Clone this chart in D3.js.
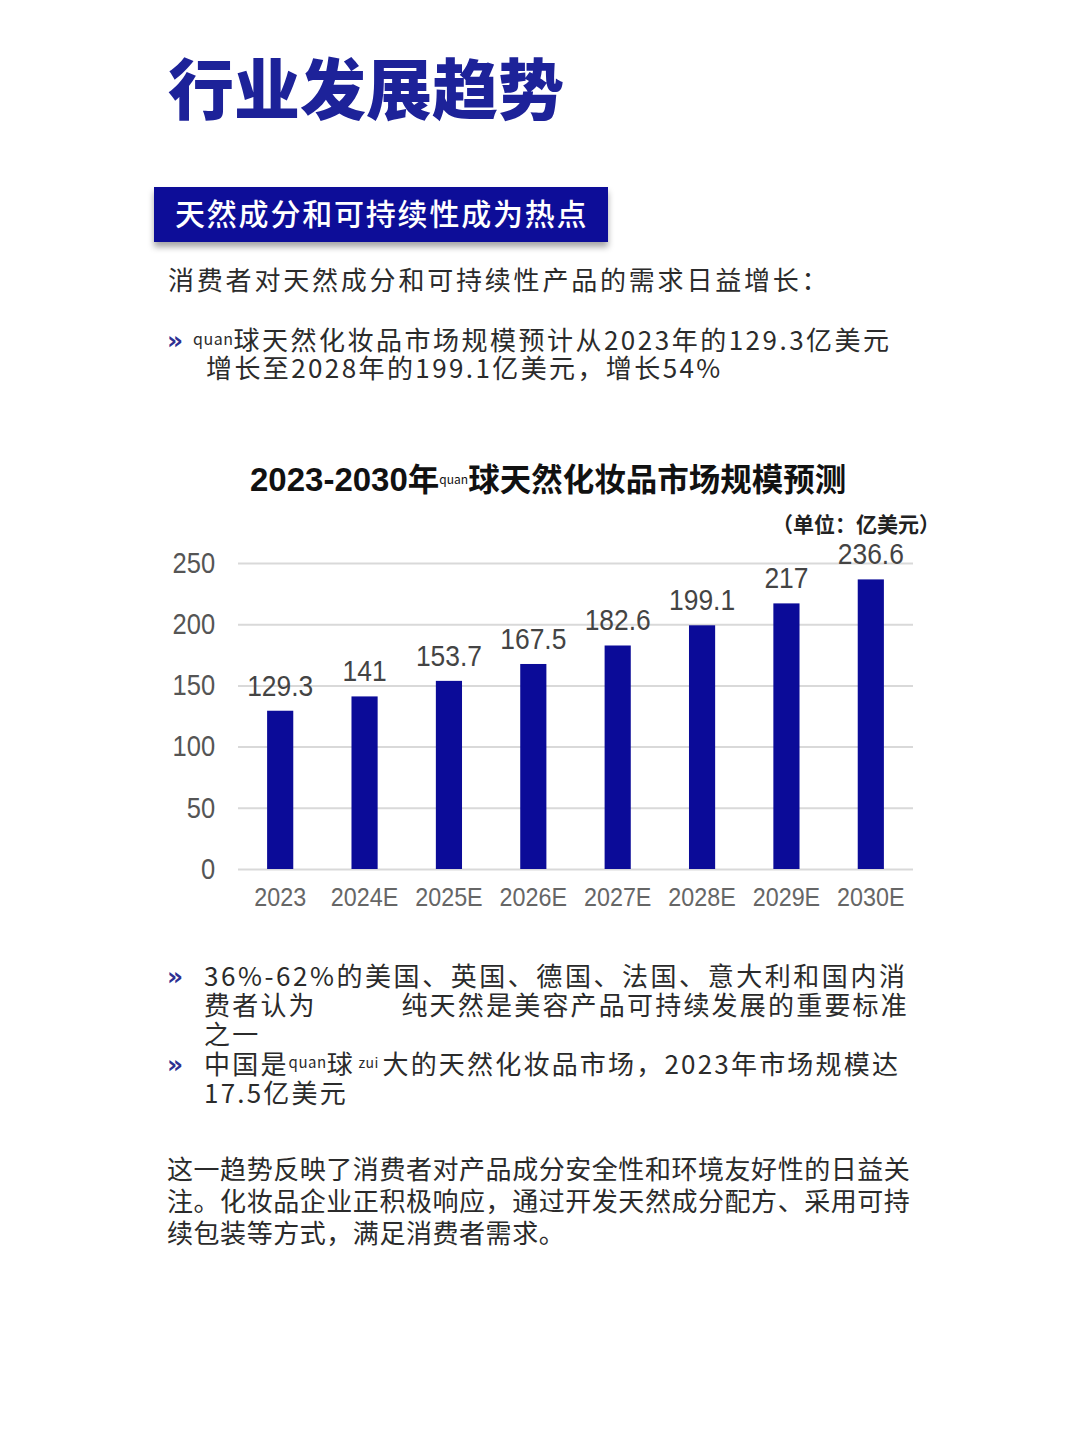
<!DOCTYPE html>
<html>
<head>
<meta charset="utf-8">
<script src="https://cdn.jsdelivr.net/npm/d3@7"></script>
<style>
  body { margin: 0; background: #fff; }
  svg { display: block; }
  .cjk { font-family: "Noto Sans CJK SC", "Noto Sans", sans-serif; }
  .num { font-family: "Liberation Sans", Arial, sans-serif; }
</style>
</head>
<body>
<svg id="page" width="1080" height="1440"></svg>
<script>
// chart data
const years = ["2023", "2024E", "2025E", "2026E", "2027E", "2028E", "2029E", "2030E"];
const marketSize = [129.3, 141, 153.7, 167.5, 182.6, 199.1, 217, 236.6];
const yTicks = [0, 50, 100, 150, 200, 250];

const navy = "#0b0b98";
const narrow = "scale(0.88,1)"; // the picture uses a condensed face for numbers

const svg = d3.select("#page");

svg.append("rect").attr("width", 1080).attr("height", 1440).attr("fill", "#fff");

// shadow for the banner
const defs = svg.append("defs");
const f = defs.append("filter").attr("id", "shadow")
    .attr("x", "-5%").attr("y", "-20%").attr("width", "110%").attr("height", "160%");
f.append("feDropShadow")
    .attr("dx", 0).attr("dy", 5).attr("stdDeviation", 3)
    .attr("flood-color", "#000").attr("flood-opacity", 0.35);

// page title
svg.append("text")
    .attr("class", "cjk")
    .attr("x", 168).attr("y", 114)
    .attr("font-size", 66).attr("font-weight", 900)
    .attr("fill", "#1d2299")
    .text("行业发展趋势");

// banner
svg.append("rect")
    .attr("x", 154).attr("y", 187)
    .attr("width", 454).attr("height", 55)
    .attr("fill", navy)
    .attr("filter", "url(#shadow)");

svg.append("text")
    .attr("class", "cjk")
    .attr("x", 175).attr("y", 225)
    .attr("font-size", 30).attr("font-weight", 500)
    .attr("letter-spacing", 1.8)
    .attr("fill", "#fff")
    .text("天然成分和可持续性成为热点");

// intro line
svg.append("text")
    .attr("class", "cjk")
    .attr("x", 168).attr("y", 290)
    .attr("font-size", 26).attr("letter-spacing", 2.8)
    .attr("fill", "#2b2b2b")
    .text("消费者对天然成分和可持续性产品的需求日益增长：");

function bullet(y) {
    svg.append("text")
        .attr("x", 167).attr("y", y - 1)
        .attr("font-family", "DejaVu Sans, sans-serif")
        .attr("font-size", 25).attr("font-weight", 700)
        .attr("fill", "#2e3192")
        .text("»");
}

function bodyLine(x, y, parts, spacing) {
    const t = svg.append("text")
        .attr("class", "cjk")
        .attr("x", x).attr("y", y)
        .attr("font-size", 26)
        .attr("letter-spacing", spacing)
        .attr("fill", "#2b2b2b");
    let shift = 0;
    parts.forEach(p => {
        if (typeof p === "string") {
            t.append("tspan").attr("dy", -shift).text(p);
            shift = 0;
        } else {
            t.append("tspan")
                .attr("font-size", p.size)
                .attr("dy", p.dy - shift)
                .attr("letter-spacing", 0.5)
                .text(p.text);
            shift = p.dy;
        }
    });
}

// bullet 1
bullet(350);
bodyLine(193, 350, [{ text: "quan", size: 16, dy: -5 }, "球天然化妆品市场规模预计从2023年的129.3亿美元"], 2.5);
bodyLine(206, 378, ["增长至2028年的199.1亿美元，增长54%"], 2.4);

// ---- chart ----
const chartLeft = 238, chartRight = 913;
const chartTop = 563, chartBottom = 869;

svg.append("text")
    .attr("class", "cjk")
    .attr("x", 250).attr("y", 491)
    .attr("font-size", 31.5).attr("font-weight", 700)
    .attr("fill", "#111")
    .call(t => {
        t.append("tspan").attr("class", "num").attr("font-size", 33).text("2023-2030");
        t.append("tspan").text("年");
        t.append("tspan").attr("font-size", 12).attr("font-weight", 400).attr("dy", -7).text("quan");
        t.append("tspan").attr("dy", 7).text("球天然化妆品市场规模预测");
    });

svg.append("text")
    .attr("class", "cjk")
    .attr("x", 940).attr("y", 532)
    .attr("text-anchor", "end")
    .attr("font-size", 21).attr("font-weight", 700)
    .attr("fill", "#222")
    .text("（单位：亿美元）");

const x = d3.scaleBand()
    .domain(years)
    .range([chartLeft, chartRight])
    .paddingInner(0.69)
    .paddingOuter(0.345);

const y = d3.scaleLinear()
    .domain([0, 250])
    .range([chartBottom, chartTop]);

const yAxis = svg.append("g")
    .attr("transform", `translate(${chartLeft},0)`)
    .call(d3.axisLeft(y).tickValues(yTicks)
        .tickSizeInner(-(chartRight - chartLeft)).tickSizeOuter(0).tickPadding(26));
yAxis.select(".domain").remove();
yAxis.selectAll(".tick line").attr("stroke", "#d9d9d9").attr("stroke-width", 2);
yAxis.selectAll(".tick text")
    .attr("class", "num")
    .attr("transform", narrow)
    .attr("font-size", 29)
    .attr("fill", "#555");

const xAxis = svg.append("g")
    .attr("transform", `translate(0,${chartBottom})`)
    .call(d3.axisBottom(x).tickSize(0).tickPadding(18));
xAxis.select(".domain").remove();
xAxis.selectAll(".tick text")
    .attr("class", "num")
    .attr("transform", narrow)
    .attr("font-size", 26.5)
    .attr("fill", "#666");

svg.append("g")
    .selectAll("rect")
    .data(years)
    .join("rect")
    .attr("x", d => x(d))
    .attr("width", x.bandwidth())
    .attr("y", (d, i) => y(marketSize[i]))
    .attr("height", (d, i) => y(0) - y(marketSize[i]))
    .attr("fill", navy);

svg.append("g")
    .selectAll("g")
    .data(years)
    .join("g")
    .attr("transform", (d, i) => `translate(${x(d) + x.bandwidth() / 2},${y(marketSize[i]) - 15})`)
    .append("text")
    .attr("class", "num")
    .attr("transform", narrow)
    .attr("text-anchor", "middle")
    .attr("font-size", 30)
    .attr("fill", "#444")
    .text((d, i) => marketSize[i]);

// bullets below the chart
bullet(986);
bodyLine(204, 986, ["36%-62%的美国、英国、德国、法国、意大利和国内消"], 2.55);
bodyLine(204, 1015, ["费者认为", "\u3000\u3000\u3000", "纯天然是美容产品可持续发展的重要标准"], 2.2);
bodyLine(204, 1044, ["之一"], 2.2);
bullet(1074);
bodyLine(204, 1074, [
    "中国是", { text: "quan", size: 15, dy: -6 }, "球",
    { text: " zui ", size: 14, dy: -6 }, "大的天然化妆品市场，2023年市场规模达"
], 2.2);
bodyLine(204, 1103, ["17.5亿美元"], 2.2);

// closing paragraph
const para = [
    "这一趋势反映了消费者对产品成分安全性和环境友好性的日益关",
    "注。化妆品企业正积极响应，通过开发天然成分配方、采用可持",
    "续包装等方式，满足消费者需求。"
];
svg.append("g")
    .selectAll("text")
    .data(para)
    .join("text")
    .attr("class", "cjk")
    .attr("x", 167)
    .attr("y", (d, i) => 1179 + i * 32)
    .attr("font-size", 26)
    .attr("letter-spacing", 0.55)
    .attr("fill", "#2b2b2b")
    .text(d => d);
</script>
</body>
</html>
